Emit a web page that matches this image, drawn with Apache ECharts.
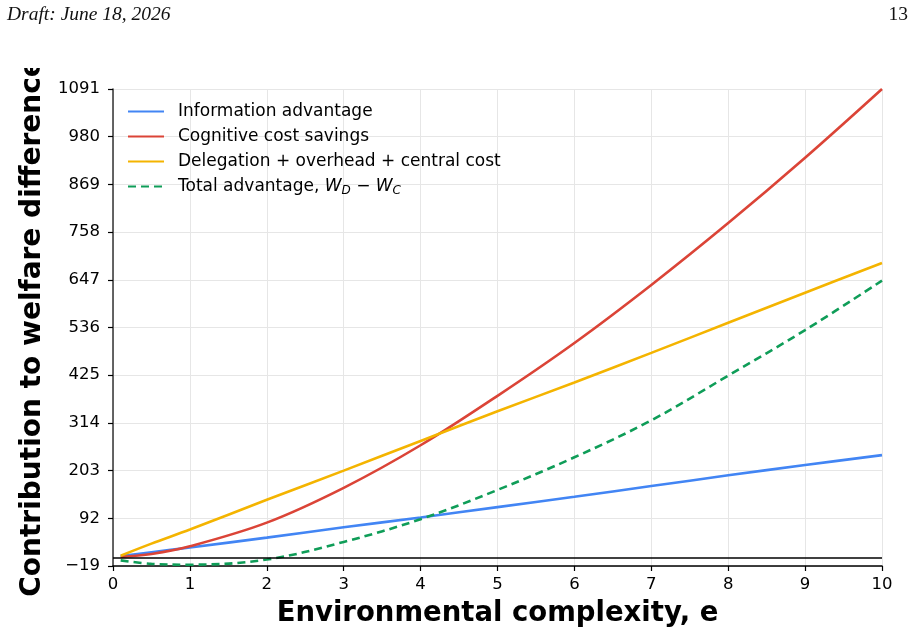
<!DOCTYPE html>
<html><head><meta charset="utf-8">
<script src="https://cdn.jsdelivr.net/npm/echarts@6/dist/echarts.min.js"></script>
<style>html,body{margin:0;padding:0;background:#fff}#c{width:915px;height:636px}</style>
</head><body><div id="c"></div>
<script>
// ---- data ----
const xValues        = [0.1, 0.5, 1, 2, 3, 4, 5, 6, 7, 8, 9, 10];
const infoAdvantage  = [4, 13, 24, 47, 71, 94, 118, 142, 167, 192, 216, 239];
const cognitiveSave  = [2, 9, 27, 82, 163, 262, 377, 500, 635, 779, 931, 1091];
const delegationCost = [5, 33, 66, 135, 203, 272, 341, 408, 477, 547, 617, 686];
const totalAdvantage = [-6, -14, -16, -4, 37, 90, 158, 234, 320, 424, 530, 645];
const seriesNames = ['Information advantage', 'Cognitive cost savings',
                     'Delegation + overhead + central cost', 'Total advantage'];
const yMin = -19, yMax = 1091, yStep = 111;
const xMin = 0, xMax = 10, xStep = 1;

const pairs = v => xValues.map((x, i) => [x, v[i]]);
const font = 'DejaVu Sans';

const chart = echarts.init(document.getElementById('c'), null, {renderer: 'canvas'});
const mk = (name, data, color, extra) => Object.assign({
  name, type: 'line', data: pairs(data), smooth: 0.35, symbol: 'none', showSymbol: false,
  lineStyle: {color, width: 2.6}, itemStyle: {color}, z: 3
}, extra || {});

chart.setOption({
  animation: false,
  backgroundColor: '#fff',
  grid: {left: 113, right: 33, top: 89, bottom: 70, containLabel: false},
  legend: {
    orient: 'vertical', left: 122, top: 98, itemWidth: 36, itemHeight: 16, itemGap: 8,
    itemStyle: {opacity: 0, borderWidth: 0},
    data: seriesNames,
    textStyle: {fontFamily: font, fontSize: 17, color: '#000', padding: [0, 0, 0, 9],
      rich: {
        n: {fontFamily: font, fontSize: 17, color: '#000'},
        i: {fontFamily: font, fontSize: 17, fontStyle: 'italic', color: '#000'},
        s: {fontFamily: font, fontSize: 12, fontStyle: 'italic', color: '#000', padding: [8, 0, 0, 0]}
      }},
    formatter: n => n === 'Total advantage' ? '{n|Total advantage, }{i|W}{s|D}{n| − }{i|W}{s|C}' : n
  },
  xAxis: {
    type: 'value', min: xMin, max: xMax, interval: xStep,
    name: 'Environmental complexity, e', nameLocation: 'middle', nameGap: 34,
    nameTextStyle: {fontFamily: font, fontSize: 27.5, fontWeight: 'bold', color: '#000'},
    axisLine: {show: true, onZero: false, lineStyle: {color: '#000', width: 1.5}},
    axisTick: {show: true, length: 5, lineStyle: {color: '#000', width: 1.2}},
    axisLabel: {fontFamily: font, fontSize: 16.5, color: '#000', margin: 10},
    splitLine: {show: true, lineStyle: {color: '#e6e6e6', width: 1}}
  },
  yAxis: {
    type: 'value', min: yMin, max: yMax, interval: yStep,
    name: 'Contribution to welfare difference', nameLocation: 'middle', nameGap: 57,
    nameTextStyle: {fontFamily: font, fontSize: 28, fontWeight: 'bold', color: '#000'},
    axisLine: {show: true, onZero: false, lineStyle: {color: '#333', width: 1.5}},
    axisTick: {show: true, length: 5, lineStyle: {color: '#000', width: 1.2}},
    axisLabel: {fontFamily: font, fontSize: 16.5, color: '#000', margin: 13,
      formatter: v => String(v).replace('-', '\u2212')},
    splitLine: {show: true, lineStyle: {color: '#e6e6e6', width: 1}}
  },
  graphic: [
    {type: 'rect', left: 0, top: 0, shape: {width: 62, height: 68}, style: {fill: '#fff'}, z: 200},
    {type: 'text', left: 7, top: 5, z: 201, style: {text: 'Draft: June 18, 2026',
      font: 'italic 19.5px "Liberation Serif"', fill: '#111'}},
    {type: 'text', right: 7, top: 5, z: 201, style: {text: '13',
      font: '19.5px "Liberation Serif"', fill: '#111'}}
  ],
  series: [
    mk(seriesNames[0], infoAdvantage, '#4285F4'),
    mk(seriesNames[1], cognitiveSave, '#DB4437'),
    mk(seriesNames[2], delegationCost, '#F4B400'),
    mk(seriesNames[3], totalAdvantage, '#0F9D58', {
      lineStyle: {color: '#0F9D58', width: 2.6, type: [8, 5]},
      markLine: {silent: true, symbol: 'none', label: {show: false},
        lineStyle: {color: '#000', width: 1.5, type: 'solid'}, data: [{yAxis: 0}]}
    })
  ]
});
</script></body></html>
